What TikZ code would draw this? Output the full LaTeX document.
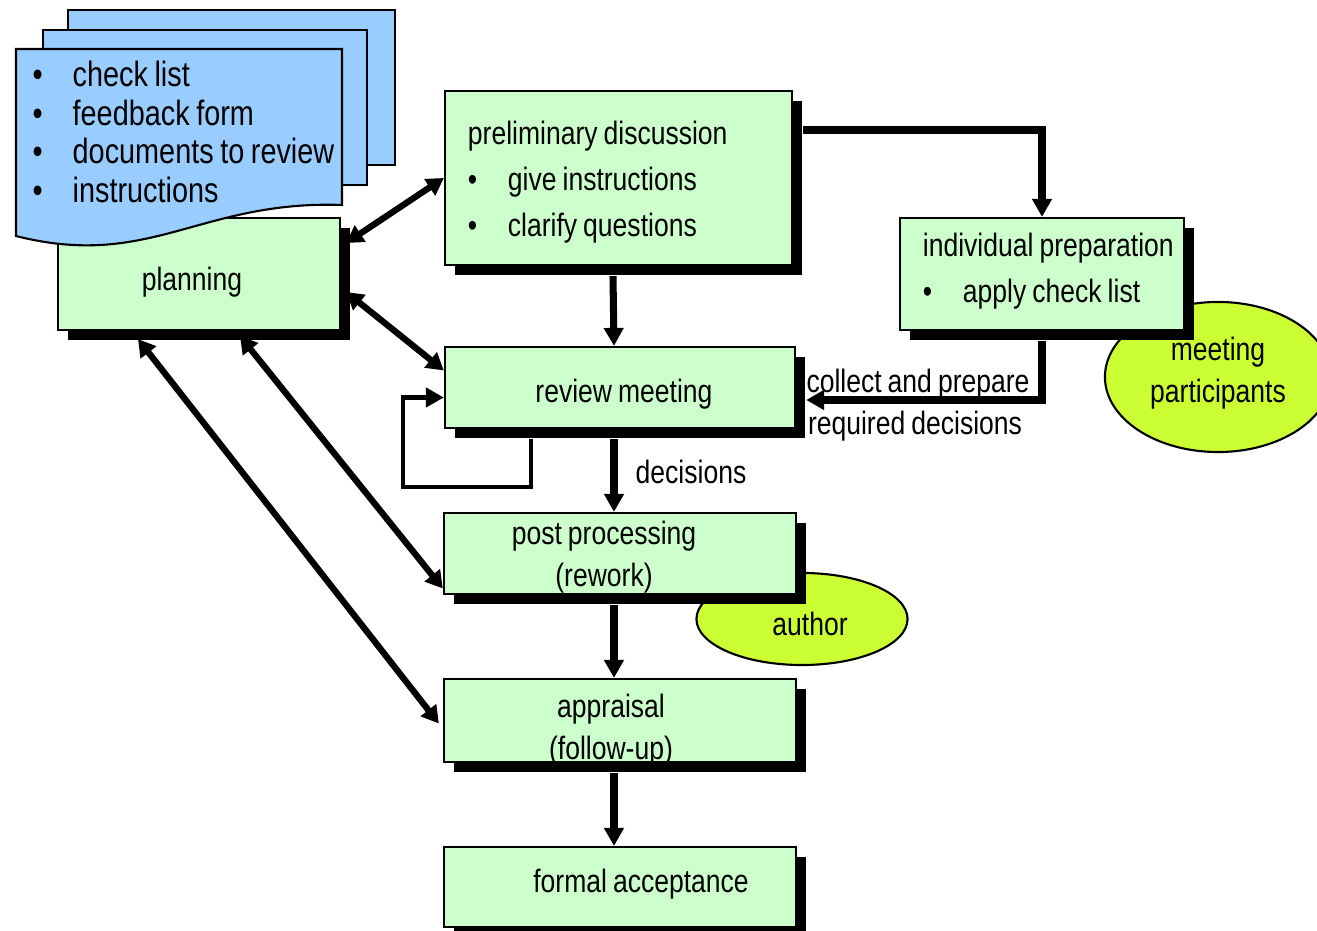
\documentclass[tikz,border=0pt]{standalone}
\usepackage{fontspec}
\setmainfont[FakeStretch=0.82, WordSpace=0.82]{Liberation Sans}
\usetikzlibrary{arrows.meta,shapes.geometric,shadows}

\definecolor{boxgreen}{HTML}{CCFFCC}
\definecolor{docblue}{HTML}{99CCFF}
\definecolor{rolegreen}{HTML}{CCFF33}

\newcommand{\bul}{\makebox[4mm][l]{\textbullet}}

\tikzset{
  stepbox/.style={draw, rectangle, fill=boxgreen, line width=0.6pt, inner sep=0pt,
    drop shadow={shadow xshift=1mm, shadow yshift=-1mm, fill=black, opacity=1}},
  role/.style={draw, ellipse, fill=rolegreen, line width=0.6pt, inner sep=0pt, align=center},
  page/.style={draw, fill=docblue, line width=0.6pt},
  flow/.style={line width=2pt, -{Triangle[length=1.8mm,width=1.9mm]}},
  both/.style={line width=1.8pt, {Triangle[length=1.7mm,width=1.9mm]}-{Triangle[length=1.7mm,width=1.9mm]}},
}

\begin{document}
\begin{tikzpicture}[x=0.01cm, y=-0.01cm, font=\fontsize{9.2}{12}\selectfont]
    \useasboundingbox (0,0) rectangle (1317,931);

    \node (participants) at (1218,377) [role, minimum width=22.6mm, minimum height=15mm, text height=14.4pt, text depth=0pt] {meeting\\participants};
    \node (author) at (802,619) [role, minimum width=21.1mm, minimum height=9.2mm, text height=9.4pt, text depth=0pt] {\kern1.6mm author};

    \node (planning) at (199,274) [stepbox, minimum width=28.2mm, minimum height=11.2mm, text height=9.2pt, text depth=0pt] {planning\kern1.4mm};
    \node (prelim) at (618.5,178) [stepbox, align=flush left, text width=30.1mm, inner xsep=2.3mm, minimum height=17.4mm,
        text height=0pt, text depth=18.8pt, font=\fontsize{9.2}{13}\selectfont]
        {preliminary discussion\\ \bul give instructions\\ \bul clarify questions};
    \node (indiv) at (1042,274) [stepbox, align=flush left, text width=23.8mm, inner xsep=2.3mm, minimum height=11.2mm,
        text height=0pt, text depth=10pt, font=\fontsize{9.2}{13}\selectfont]
        {\mbox{individual preparation}\\ \bul apply check list};
    \node (review) at (620,387.5) [stepbox, minimum width=35mm, minimum height=8.1mm, text height=8.7pt, text depth=0pt] {\kern0.8mm review meeting};
    \node (post) at (620,553.5) [stepbox, align=center, minimum width=35.2mm, minimum height=8.1mm, text height=18.7pt, text depth=0pt]
        {post processing\kern3.2mm\\(rework)\kern3.2mm};
    \node (appraisal) at (620,720.5) [stepbox, align=center, minimum width=35.2mm, minimum height=8.3mm, text height=22.4pt, text depth=0pt]
        {appraisal\kern1.8mm\\(follow-up)\kern1.8mm};
    \node (formal) at (620,887) [stepbox, minimum width=35.2mm, minimum height=8mm, text height=3pt, text depth=0pt] {\kern4.2mm formal acceptance};

    % stacked documents
    \draw[page] (68,10) rectangle (395,165);
    \draw[page] (43,30) rectangle (367,185);
    \draw[page] (16,49) -- (342,49) -- (342,205) .. controls (200,200) and (150,270) .. (16,236) -- cycle;
    \node (docs) at (32,132) [anchor=west, inner sep=0pt, align=left, font=\fontsize{10}{11}\selectfont]
        {\bul check list\\ \bul feedback form\\ \bul documents to review\\ \bul instructions};

    \draw[both] ([shift={(5,-31)}]planning.east) -- (prelim.west);
    \draw[both] ([shift={(5,18)}]planning.east) -- ([shift={(0,-17)}]review.west);
    \draw[both] ([shift={(41,5)}]planning.south) -- ([shift={(0,35)}]post.west);
    \draw[both] ([shift={(-61,8)}]planning.south) -- ([shift={(-4,3)}]appraisal.west);

    \draw[flow] ([shift={(-5.5,10)}]prelim.south) -- ([shift={(-6,0)}]review.north);
    \draw[flow] ([shift={(10,-48)}]prelim.east) -| (indiv.north);
    \draw[flow] ([shift={(0,10)}]indiv.south) |- ([shift={(10,12.5)}]review.east);
    \node (collect) at (918,384) {collect and prepare};
    \node (required) at (915,426) {required decisions};

    \coordinate (loop) at (403,487);
    \draw[flow, line width=1.4pt] ([shift={(-89,10)}]review.south) |- (loop) |- ([shift={(0,10)}]review.west);

    \draw[flow] ([shift={(-6,10)}]review.south) -- ([shift={(-6,0)}]post.north);
    \node (decisions) at (691,472) {decisions};
    \draw[flow] ([shift={(-6,10)}]post.south) -- ([shift={(-6,0)}]appraisal.north);
    \draw[flow] ([shift={(-6,10)}]appraisal.south) -- ([shift={(-6,0)}]formal.north);
\end{tikzpicture}
\end{document}
